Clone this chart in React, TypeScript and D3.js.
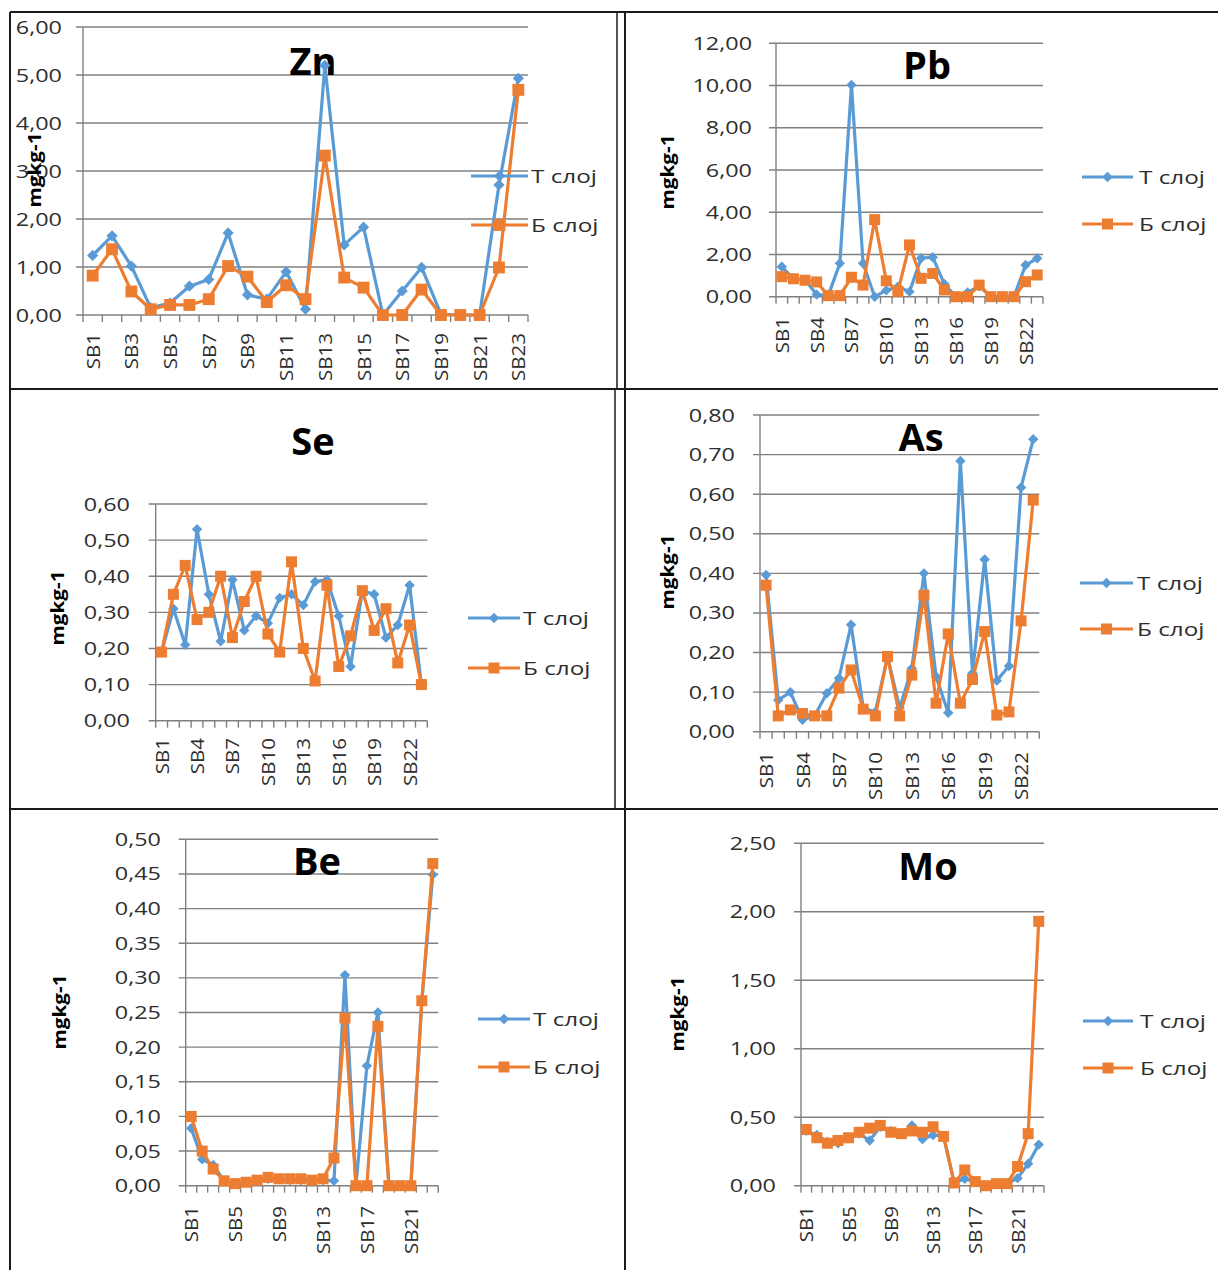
import React from 'react';
import * as d3 from 'd3';

const categories = ['SB1','SB2','SB3','SB4','SB5','SB6','SB7','SB8','SB9','SB10','SB11','SB12','SB13','SB14','SB15','SB16','SB17','SB18','SB19','SB20','SB21','SB22','SB23'];
const seriesNames = ['T слој', 'Б слој'];

const znT = [1.24, 1.65, 1.02, 0.15, 0.25, 0.60, 0.74, 1.71, 0.42, 0.33, 0.90, 0.12, 5.20, 1.46, 1.83, 0.00, 0.50, 0.99, 0.02, 0.00, 0.00, 2.71, 4.93];
const znB = [0.82, 1.37, 0.49, 0.12, 0.21, 0.21, 0.33, 1.02, 0.80, 0.27, 0.62, 0.33, 3.32, 0.78, 0.57, 0.00, 0.00, 0.53, 0.00, 0.00, 0.00, 0.99, 4.69];

const pbT = [1.42, 0.85, 0.80, 0.10, 0.05, 1.58, 10.03, 1.58, 0.00, 0.30, 0.47, 0.24, 1.82, 1.87, 0.60, 0.00, 0.20, 0.50, 0.00, 0.00, 0.00, 1.50, 1.82];
const pbB = [0.95, 0.85, 0.78, 0.70, 0.05, 0.05, 0.92, 0.55, 3.65, 0.75, 0.25, 2.45, 0.87, 1.10, 0.32, 0.00, 0.00, 0.55, 0.00, 0.00, 0.00, 0.71, 1.03];

const seT = [0.19, 0.31, 0.21, 0.53, 0.35, 0.22, 0.39, 0.25, 0.29, 0.27, 0.34, 0.35, 0.32, 0.385, 0.39, 0.29, 0.15, 0.36, 0.35, 0.23, 0.265, 0.375, 0.10];
const seB = [0.19, 0.35, 0.43, 0.28, 0.30, 0.40, 0.23, 0.33, 0.40, 0.24, 0.19, 0.44, 0.20, 0.11, 0.375, 0.15, 0.235, 0.36, 0.25, 0.31, 0.16, 0.265, 0.10];

const asT = [0.396, 0.08, 0.10, 0.03, 0.04, 0.097, 0.135, 0.27, 0.06, 0.05, 0.19, 0.06, 0.16, 0.40, 0.139, 0.048, 0.684, 0.148, 0.435, 0.129, 0.166, 0.617, 0.739];
const asB = [0.37, 0.04, 0.055, 0.046, 0.04, 0.04, 0.11, 0.156, 0.057, 0.04, 0.19, 0.04, 0.143, 0.345, 0.072, 0.247, 0.072, 0.132, 0.253, 0.042, 0.05, 0.28, 0.585];

const beT = [0.083, 0.038, 0.03, 0.007, 0.003, 0.005, 0.008, 0.01, 0.01, 0.008, 0.008, 0.008, 0.008, 0.007, 0.304, 0.0, 0.173, 0.25, 0.0, 0.0, 0.0, 0.267, 0.449];
const beB = [0.10, 0.05, 0.024, 0.007, 0.003, 0.005, 0.008, 0.012, 0.01, 0.01, 0.01, 0.008, 0.01, 0.04, 0.242, 0.0, 0.0, 0.23, 0.0, 0.0, 0.0, 0.267, 0.465];

const moT = [0.40, 0.37, 0.32, 0.31, 0.35, 0.38, 0.33, 0.43, 0.40, 0.38, 0.44, 0.34, 0.37, 0.36, 0.02, 0.05, 0.03, 0.0, 0.015, 0.015, 0.055, 0.16, 0.30];
const moB = [0.41, 0.35, 0.31, 0.33, 0.35, 0.39, 0.42, 0.44, 0.39, 0.38, 0.40, 0.39, 0.43, 0.36, 0.02, 0.115, 0.03, 0.0, 0.015, 0.015, 0.14, 0.38, 1.93];

const BLUE = '#5B9BD5';
const ORANGE = '#ED7D31';
const GRID = '#808080';
const TXT = '#2e2e2e';
const FONT = "'Open Sans', 'DejaVu Sans', sans-serif";

const panels = [
  { title: 'Zn', T: znT, B: znB, max: 6, step: 1, x0: 83, x1: 528, yTop: 27, y0: 315, every: 2, yLabelX: 62, titleX: 313, titleY: 75, yTitleX: 35, yTitleY: 170, legX0: 471, legX1: 528, legTextX: 531, legY1: 176, legY2: 225, xLabelY: 333, mk: 1.08 },
  { title: 'Pb', T: pbT, B: pbB, max: 12, step: 2, x0: 776, x1: 1043, yTop: 43.3, y0: 296.7, every: 3, yLabelX: 752, titleX: 927, titleY: 79, yTitleX: 668, yTitleY: 172, legX0: 1082, legX1: 1133, legTextX: 1139, legY1: 177, legY2: 224, xLabelY: 317, mk: 1 },
  { title: 'Se', T: seT, B: seB, max: 0.6, step: 0.1, x0: 155.7, x1: 427.3, yTop: 504, y0: 720.7, every: 3, yLabelX: 130, titleX: 313, titleY: 455, yTitleX: 58, yTitleY: 608, legX0: 468, legX1: 520, legTextX: 523, legY1: 618, legY2: 668, xLabelY: 738, mk: 1 },
  { title: 'As', T: asT, B: asB, max: 0.8, step: 0.1, x0: 760, x1: 1039.3, yTop: 415, y0: 731.7, every: 3, yLabelX: 735, titleX: 921, titleY: 451, yTitleX: 668, yTitleY: 572, legX0: 1080, legX1: 1133, legTextX: 1137, legY1: 583, legY2: 629, xLabelY: 752, mk: 1 },
  { title: 'Be', T: beT, B: beB, max: 0.5, step: 0.05, x0: 185.7, x1: 438.3, yTop: 839.3, y0: 1185.7, every: 4, yLabelX: 161, titleX: 317, titleY: 875, yTitleX: 60, yTitleY: 1012, legX0: 478, legX1: 530, legTextX: 533, legY1: 1019, legY2: 1067, xLabelY: 1206, mk: 1 },
  { title: 'Mo', T: moT, B: moB, max: 2.5, step: 0.5, x0: 801, x1: 1044, yTop: 843.3, y0: 1185.7, every: 4, yLabelX: 776, titleX: 928, titleY: 880, yTitleX: 678, yTitleY: 1014, legX0: 1083, legX1: 1133, legTextX: 1140, legY1: 1021, legY2: 1068, xLabelY: 1206, mk: 1 },
];

const fmt = (v: number) => d3.format('.2f')(v).replace('.', ',');

function Diamond({ x, y, r, color }: any) {
  return <path d={`M${x},${y - r}L${x + r},${y}L${x},${y + r}L${x - r},${y}Z`} fill={color} />;
}
function Square({ x, y, s, color }: any) {
  return <rect x={x - s / 2} y={y - s / 2} width={s} height={s} fill={color} />;
}

function Panel({ p }: any) {
  const x = d3.scalePoint<string>().domain(categories).range([p.x0, p.x1]).padding(0.5);
  const y = d3.scaleLinear().domain([0, p.max]).range([p.y0, p.yTop]);
  const stepX = x.step();
  const nT = Math.round(p.max / p.step);
  const ticks = d3.range(nT + 1).map((i) => i * p.step);
  const line = d3.line<number>().x((_, i) => x(categories[i]) as number).y((d) => y(d));
  const r = 5.2 * p.mk;
  const s = 11 * p.mk;
  const lw = 3.2;
  return (
    <g>
      {ticks.map((t) => (
        <line key={'g' + t} x1={p.x0 - 7} x2={p.x1} y1={y(t)} y2={y(t)} stroke={GRID} strokeWidth={1.4} />
      ))}
      <line x1={p.x0} x2={p.x0} y1={p.yTop} y2={p.y0} stroke={GRID} strokeWidth={1.4} />
      {d3.range(categories.length + 1).map((k) => (
        <line key={'t' + k} x1={p.x0 + k * stepX} x2={p.x0 + k * stepX} y1={p.y0} y2={p.y0 + 7} stroke={GRID} strokeWidth={1.4} />
      ))}
      {ticks.map((t) => (
        <text key={'yl' + t} transform={`translate(${p.yLabelX},${y(t) + 6.5}) scale(1.3,1)`} textAnchor="end" fontSize={18} fontFamily={FONT} fill={TXT}>
          {fmt(t)}
        </text>
      ))}
      {categories.map((c, i) =>
        i % p.every === 0 ? (
          <text key={'xl' + c} transform={`translate(${(x(c) as number) + 7},${p.xLabelY}) rotate(-90) scale(1.08,1)`} textAnchor="end" fontSize={19} fontFamily={FONT} fill={TXT}>
            {c}
          </text>
        ) : null
      )}
      <text transform={`translate(${p.yTitleX + 6},${p.yTitleY}) rotate(-90) scale(1.22,1)`} textAnchor="middle" fontSize={17} fontWeight="bold" fontFamily={FONT} fill="#000">
        mgkg-1
      </text>
      <text x={p.titleX} y={p.titleY} textAnchor="middle" fontSize={38} fontWeight="bold" fontFamily={FONT} fill="#000">
        {p.title}
      </text>
      <path d={line(p.T) as string} fill="none" stroke={BLUE} strokeWidth={lw} strokeLinejoin="round" />
      {p.T.map((v: number, i: number) => (
        <Diamond key={'d' + i} x={x(categories[i])} y={y(v)} r={r} color={BLUE} />
      ))}
      <path d={line(p.B) as string} fill="none" stroke={ORANGE} strokeWidth={lw} strokeLinejoin="round" />
      {p.B.map((v: number, i: number) => (
        <Square key={'s' + i} x={x(categories[i])} y={y(v)} s={s} color={ORANGE} />
      ))}
      <line x1={p.legX0} x2={p.legX1} y1={p.legY1} y2={p.legY1} stroke={BLUE} strokeWidth={lw} />
      <Diamond x={(p.legX0 + p.legX1) / 2} y={p.legY1} r={r} color={BLUE} />
      <text transform={`translate(${p.legTextX},${p.legY1 + 6.5}) scale(1.35,1)`} fontSize={18} fontFamily={FONT} fill={TXT}>
        {seriesNames[0]}
      </text>
      <line x1={p.legX0} x2={p.legX1} y1={p.legY2} y2={p.legY2} stroke={ORANGE} strokeWidth={lw} />
      <Square x={(p.legX0 + p.legX1) / 2} y={p.legY2} s={s} color={ORANGE} />
      <text transform={`translate(${p.legTextX},${p.legY2 + 6.5}) scale(1.35,1)`} fontSize={18} fontFamily={FONT} fill={TXT}>
        {seriesNames[1]}
      </text>
    </g>
  );
}

export default function App() {
  const B = '#1a1a1a';
  return (
    <svg width={1218} height={1270} style={{ position: 'absolute', left: 0, top: 0, background: '#fff' }}>
      <rect x={0} y={0} width={1218} height={1270} fill="#fff" />
      <line x1={10} x2={1218} y1={12} y2={12} stroke={B} strokeWidth={2} />
      <line x1={10} x2={1218} y1={389} y2={389} stroke={B} strokeWidth={2} />
      <line x1={10} x2={1218} y1={809} y2={809} stroke={B} strokeWidth={2} />
      <line x1={10} x2={10} y1={12} y2={1270} stroke={B} strokeWidth={2} />
      <line x1={625} x2={625} y1={12} y2={1270} stroke={B} strokeWidth={2} />
      <line x1={617} x2={617} y1={12} y2={389} stroke={B} strokeWidth={1.5} />
      <line x1={615} x2={615} y1={389} y2={809} stroke={B} strokeWidth={1.5} />
      {panels.map((p) => (
        <Panel key={p.title} p={p} />
      ))}
    </svg>
  );
}
